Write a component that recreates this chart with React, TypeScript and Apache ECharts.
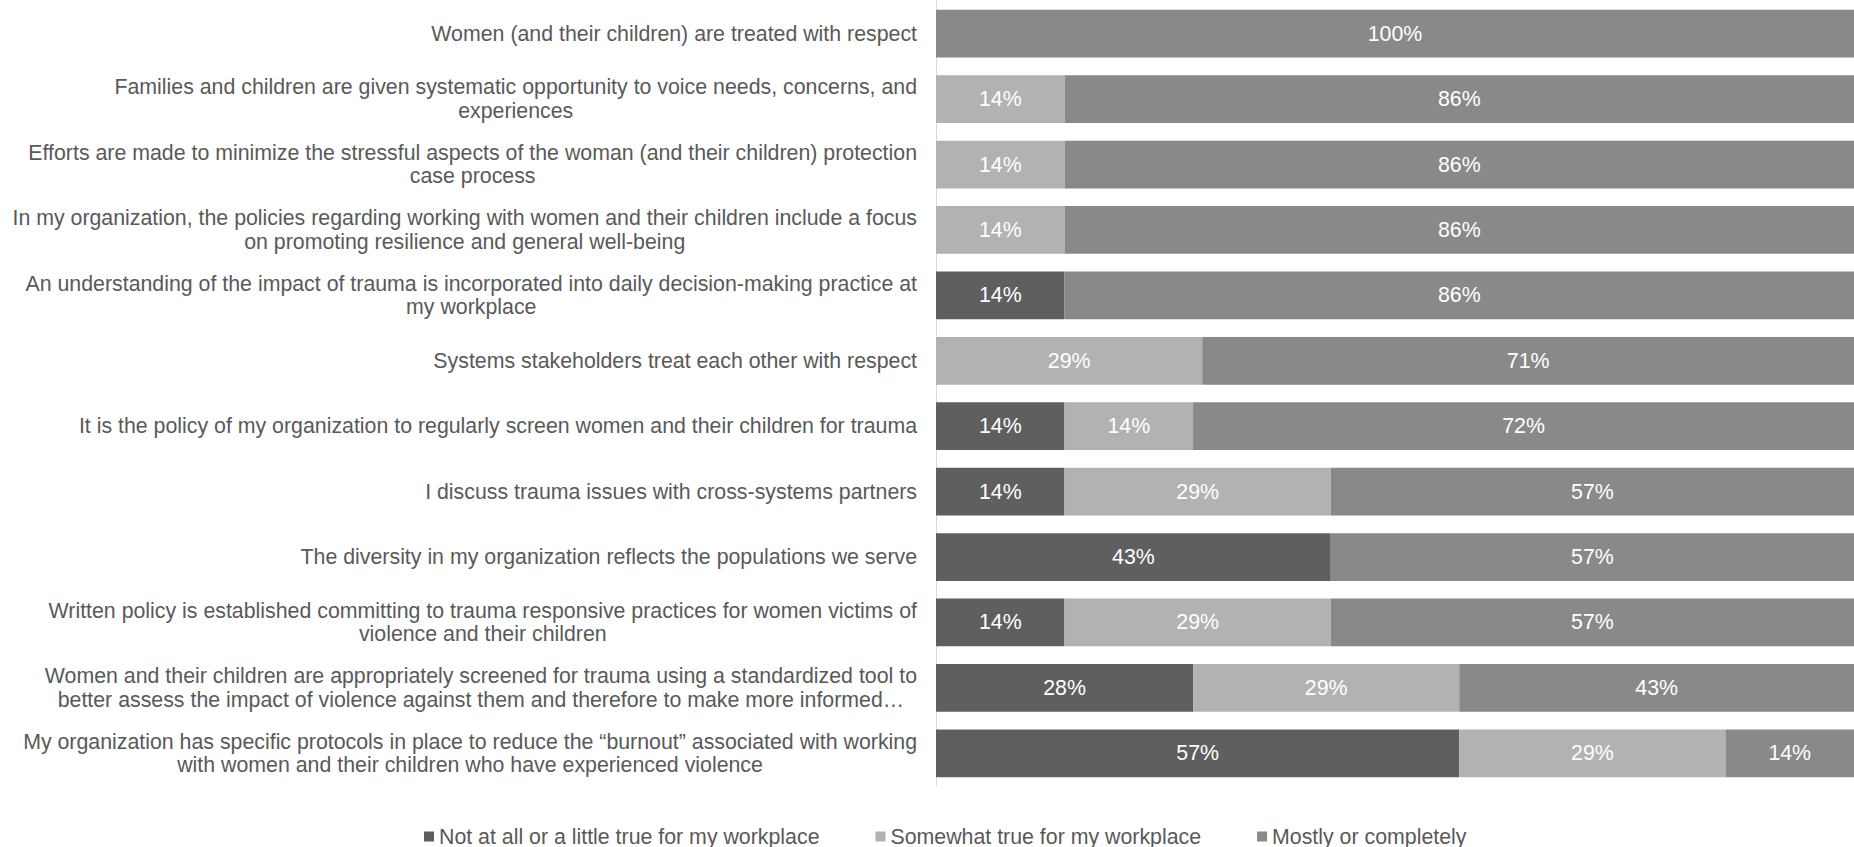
import React, { useEffect, useRef } from "react";
import * as echarts from "echarts";

const categories: string[] = [
  "Women (and their children) are treated with respect",
  "Families and children are given systematic opportunity to voice needs, concerns, and\nexperiences",
  "Efforts are made to minimize the stressful aspects of the woman (and their children) protection\ncase process",
  "In my organization, the policies regarding working with women and their children include a focus\non promoting resilience and general well-being",
  "An understanding of the impact of trauma is incorporated into daily decision-making practice at\nmy workplace",
  "Systems stakeholders treat each other with respect",
  "It is the policy of my organization to regularly screen women and their children for trauma",
  "I discuss trauma issues with cross-systems partners",
  "The diversity in my organization reflects the populations we serve",
  "Written policy is established committing to trauma responsive practices for women victims of\nviolence and their children",
  "Women and their children are appropriately screened for trauma using a standardized tool to\nbetter assess the impact of violence against them and therefore to make more informed…",
  "My organization has specific protocols in place to reduce the “burnout” associated with working\nwith women and their children who have experienced violence",
];

const seriesNames: string[] = [
  "Not at all or a little true for my workplace",
  "Somewhat true for my workplace",
  "Mostly or completely",
];

const notAtAll: number[] = [0, 0, 0, 0, 14, 0, 14, 14, 43, 14, 28, 57];
const somewhat: number[] = [0, 14, 14, 14, 0, 29, 14, 29, 0, 29, 29, 29];
const mostly: number[] = [100, 86, 86, 86, 86, 71, 72, 57, 57, 57, 43, 14];

const colors: string[] = ["#5f5f5f", "#b2b2b2", "#898989"];

const FONT = "'Liberation Sans', Arial, sans-serif";
const FS = 21.33;

export default function App() {
  const ref = useRef<HTMLDivElement>(null);

  useEffect(() => {
    if (!ref.current) return;
    const chart = echarts.init(ref.current, undefined, { renderer: "svg" });
    const values = [notAtAll, somewhat, mostly];
    chart.setOption({
      animation: false,
      textStyle: { fontFamily: FONT },
      grid: { left: 936, right: 0, top: 1, bottom: 61, containLabel: false },
      legend: {
        left: 419,
        top: 821,
        itemWidth: 10,
        itemHeight: 10,
        itemGap: 56,
        icon: "rect",
        textStyle: { fontFamily: FONT, fontSize: FS, color: "#595959" },
        data: seriesNames,
      },
      xAxis: {
        type: "value",
        min: 0,
        max: 100,
        show: false,
      },
      yAxis: {
        type: "category",
        inverse: true,
        data: categories,
        axisLine: { show: true, lineStyle: { color: "#d9d9d9", width: 1 } },
        axisTick: { show: false },
        axisLabel: {
          margin: 19,
          color: "#595959",
          fontFamily: FONT,
          fontSize: FS,
          lineHeight: 23.3,
          align: "right",
          formatter: (v: string) =>
            v
              .split("\n")
              .map((l) => "{c|" + l + "}")
              .join("\n"),
          rich: {
            c: {
              align: "center",
              color: "#595959",
              fontFamily: FONT,
              fontSize: FS,
              lineHeight: 23.3,
            },
          },
        },
      },
      series: seriesNames.map((name, i) => ({
        name,
        type: "bar",
        stack: "total",
        barCategoryGap: "27%",
        itemStyle: { color: colors[i] },
        label: {
          show: true,
          position: "inside",
          color: "#ffffff",
          fontFamily: FONT,
          fontSize: FS,
          formatter: (p: any) => (p.value ? p.value + "%" : ""),
        },
        data: values[i],
      })),
    });
    return () => chart.dispose();
  }, []);

  return (
    <div
      ref={ref}
      style={{ position: "fixed", left: 0, top: 0, width: 1854, height: 847, background: "#ffffff" }}
    />
  );
}
